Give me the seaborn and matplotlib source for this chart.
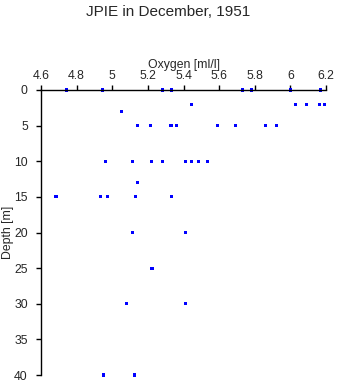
import matplotlib
matplotlib.use("Agg")
import matplotlib.pyplot as plt
import seaborn as sns
import pandas as pd

depth = [0, 0, 0, 0, 0, 0, 0, 0,
         2, 2, 2, 2, 2,
         3,
         5, 5, 5, 5, 5, 5, 5, 5,
         10, 10, 10, 10, 10, 10, 10, 10,
         13,
         15, 15, 15, 15, 15,
         20, 20,
         25,
         30, 30,
         40, 40]
oxygen = [4.744, 4.944, 5.281, 5.332, 5.732, 5.781, 6.0, 6.170,
          5.444, 6.030, 6.090, 6.163, 6.191,
          5.051,
          5.141, 5.214, 5.330, 5.360, 5.590, 5.691, 5.859, 5.921,
          4.961, 5.113, 5.219, 5.281, 5.410, 5.444, 5.483, 5.534,
          5.141,
          4.684, 4.933, 4.973, 5.133, 5.332,
          5.113, 5.410,
          5.223,
          5.081, 5.410,
          4.952, 5.124]

x_ticks = [4.6, 4.8, 5.0, 5.2, 5.4, 5.6, 5.8, 6.0, 6.2]
x_tick_labels = ["4.6", "4.8", "5", "5.2", "5.4", "5.6", "5.8", "6", "6.2"]
y_ticks = [0, 5, 10, 15, 20, 25, 30, 35, 40]

df = pd.DataFrame({"Oxygen": oxygen, "Depth": depth})

sns.set_style("ticks")
plt.rcParams["font.family"] = ["Liberation Sans", "DejaVu Sans"]

fig = plt.figure(figsize=(3.37, 3.84), dpi=100)
ax = fig.add_axes([41/337, 1 - 375/384, 285/337, 285/384])

sns.scatterplot(data=df, x="Oxygen", y="Depth", marker="s", s=5,
                color="#0000ff", edgecolor="none", linewidth=0, ax=ax,
                clip_on=False)

ax.set_xlim(4.6, 6.2)
ax.set_ylim(40, 0)
ax.xaxis.tick_top()
ax.xaxis.set_label_position("top")
ax.set_xticks(x_ticks)
ax.set_xticklabels(x_tick_labels)
ax.set_yticks(y_ticks)
ax.set_xlabel("Oxygen [ml/l]", fontsize=8.8, labelpad=2)
ax.set_ylabel("Depth [m]", fontsize=8.8)
ax.yaxis.set_label_coords(-0.095, 0.5)
ax.tick_params(axis="both", labelsize=8.8, length=3.5, width=1, color="black",
               direction="out")
ax.tick_params(axis="x", pad=2)
ax.tick_params(axis="y", pad=6)

for s in ["bottom", "right"]:
    ax.spines[s].set_visible(False)
for s in ["top", "left"]:
    ax.spines[s].set_color("black")
    ax.spines[s].set_linewidth(1)

fig.text(0.5, 1 - 12/384, "JPIE in December, 1951", ha="center", va="center",
         fontsize=11)

fig.savefig("out.png", dpi=100)
